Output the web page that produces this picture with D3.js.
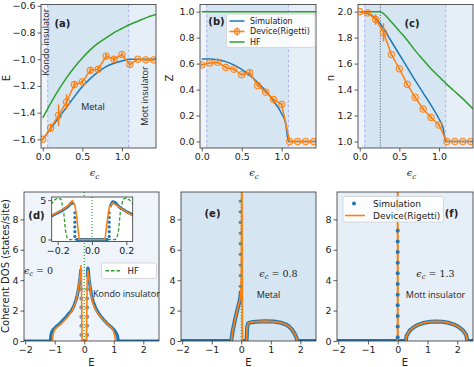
<!DOCTYPE html>
<html>
<head>
<meta charset="utf-8">
<script src="https://cdn.jsdelivr.net/npm/d3@7"></script>
<style>
  body { margin: 0; background: #fff; }
  svg text { fill: #222; }
</style>
</head>
<body>
<svg id="chart" width="474" height="367"></svg>
<script>
// ---- top row: energy, Z and n against eps_c ----
const epsDevice = [0, 0.1, 0.2, 0.3, 0.4, 0.5, 0.6, 0.7, 0.8, 0.9, 1.0, 1.1, 1.2, 1.3, 1.4]
const epsSim = [0, 0.1, 0.2, 0.3, 0.4, 0.5, 0.6, 0.7, 0.8, 0.9, 1.0, 1.05, 1.085, 1.43]
const epsHF = [0, 0.1, 0.2, 0.3, 0.4, 0.5, 0.6, 0.7, 0.8, 0.9, 1.0, 1.1, 1.2, 1.3, 1.43]
const epsHFn = [0, 0.26, 0.3, 0.4, 0.5, 0.6, 0.7, 0.8, 0.9, 1.0, 1.1, 1.2, 1.3, 1.43]

const energyDevice = [-1.6, -1.514, -1.42, -1.32, -1.19, -1.17, -1.083, -1.075, -0.977, -1.0, -0.965, -1.04, -1.0, -1.005, -1.005]
const energyErr = [0.01, 0.03, 0.08, 0.055, 0.025, 0.015, 0.025, 0.025, 0.02, 0.02, 0.015, 0.015, 0.01, 0.01, 0.01]
const energySim = [-1.6, -1.52, -1.44, -1.36, -1.28, -1.205, -1.145, -1.095, -1.055, -1.03, -1.013, -1.005, -1.0, -1.0]
const energyHF = [-1.44, -1.33, -1.23, -1.14, -1.06, -0.99, -0.93, -0.88, -0.84, -0.8, -0.77, -0.74, -0.715, -0.69, -0.665]

const zDevice = [0.59, 0.605, 0.61, 0.57, 0.557, 0.514, 0.53, 0.43, 0.38, 0.324, 0.286, 0, 0, 0, 0]
const zErr = [0.01, 0.01, 0.01, 0.01, 0.01, 0.01, 0.02, 0.01, 0.01, 0.01, 0.015, 0.005, 0.005, 0.005, 0.005]
const zSim = [0.635, 0.635, 0.63, 0.615, 0.59, 0.555, 0.51, 0.455, 0.39, 0.31, 0.215, 0.14, 0, 0]
const zHF = [1, 1, 1, 1, 1, 1, 1, 1, 1, 1, 1, 1, 1, 1, 1]

const nDevice = [2.0, 1.99, 1.94, 1.84, 1.67, 1.56, 1.44, 1.34, 1.25, 1.185, 1.127, 1.0, 1.0, 1.0, 1.0]
const nErr = [0.005, 0.01, 0.04, 0.07, 0.01, 0.01, 0.01, 0.01, 0.01, 0.01, 0.01, 0.005, 0.005, 0.005, 0.005]
const nSim = [2.0, 1.985, 1.95, 1.87, 1.77, 1.67, 1.57, 1.47, 1.375, 1.28, 1.175, 1.11, 1.0, 1.0]
const nHF = [2.0, 2.0, 1.985, 1.92, 1.85, 1.78, 1.7, 1.63, 1.56, 1.5, 1.44, 1.385, 1.33, 1.25]

// phase boundaries (Kondo | Metal | Mott) and the HF kink in (c)
const phaseEdges = [0.063, 1.085]
const hfKink = [0.26]

const epsTicks = [0, 0.5, 1.0]
const energyTicks = [-1.6, -1.4, -1.2, -1.0, -0.8, -0.6]
const zTicks = [0, 0.2, 0.4, 0.6, 0.8, 1.0]
const nTicks = [1.0, 1.2, 1.4, 1.6, 1.8, 2.0]

// ---- bottom row: coherent DOS against E ----
const simE_d = [-2.04, -1.15, -1.13, -1.1, -1.05, -0.95, -0.85, -0.75, -0.65, -0.55, -0.45, -0.35, -0.28, -0.23, -0.18, -0.14, -0.12, -0.105, -0.1, -0.095, 0.095, 0.1, 0.105, 0.12, 0.135, 0.16, 0.2, 0.25, 0.3, 0.4, 0.5, 0.6, 0.7, 0.8, 0.9, 1.0, 1.06, 1.1, 1.13, 1.15, 2.53]
const simDos_d = [0, 0, 0.35, 0.6, 0.75, 0.95, 1.1, 1.3, 1.5, 1.75, 1.95, 2.3, 2.7, 3.05, 3.6, 4.2, 4.65, 4.6, null, 0, 0, null, 4.2, 4.8, 4.7, 4.1, 3.55, 3.0, 2.6, 2.1, 1.78, 1.52, 1.3, 1.1, 0.94, 0.75, 0.6, 0.45, 0.3, 0, 0]
const devE_d = [-1.08, -1.06, -1.03, -1.0, -0.9, -0.8, -0.7, -0.6, -0.5, -0.4, -0.3, -0.25, -0.2, -0.16, -0.13, -0.115, -0.1, -0.09, -0.08, -0.075, 0.075, 0.08, 0.09, 0.1, 0.12, 0.14, 0.17, 0.2, 0.25, 0.3, 0.4, 0.5, 0.6, 0.7, 0.8, 0.9, 0.97, 1.0, 1.03, 1.06]
const devDos_d = [0, 0.35, 0.6, 0.75, 0.95, 1.1, 1.3, 1.5, 1.75, 2.05, 2.5, 2.9, 3.45, 3.95, 4.5, 4.95, 4.4, 3.0, 1.0, 0, 0, 0.8, 2.6, 4.0, 4.65, 4.4, 3.95, 3.5, 2.9, 2.45, 2.0, 1.72, 1.48, 1.28, 1.08, 0.92, 0.72, 0.58, 0.33, 0]
const gapDotE_d = [-0.1, -0.1, -0.1, -0.1, -0.1, -0.1, 0.1, 0.1, 0.1, 0.1, 0.1, 0.1]
const gapDotDos_d = [0.4, 1.0, 1.6, 2.2, 2.8, 3.4, 0.4, 1.0, 1.6, 2.2, 2.8, 3.4]
const hfE_d = [-0.26, -0.235, -0.22, -0.2, -0.18, -0.165, -0.155, -0.145, -0.135, 0.135, 0.145, 0.155, 0.165, 0.18, 0.2, 0.22, 0.235, 0.26]
const hfDos_d = [3.9, 4.6, 5.0, 5.3, 5.1, 3.5, 1.2, 0.2, 0, 0, 0.2, 1.2, 3.5, 5.1, 5.3, 5.0, 4.6, 3.9]

const simE_e = [-2.04, -0.34, -0.3, -0.26, -0.2, -0.15, -0.1, -0.06, -0.03, -0.01, 0, 0.04, 0.18, 0.2, 0.23, 0.3, 0.5, 0.8, 1.1, 1.35, 1.5, 1.62, 1.72, 1.8, 1.86, 1.9, 2.53]
const simDos_e = [0, 0, 0.55, 0.95, 1.5, 1.9, 2.3, 2.6, 2.9, 3.3, null, 0, 0, 0.9, 1.15, 1.22, 1.27, 1.3, 1.28, 1.2, 1.1, 0.95, 0.75, 0.5, 0.25, 0, 0]
const devE_e = [-0.34, -0.3, -0.26, -0.2, -0.15, -0.1, -0.06, -0.03, -0.01, 0.005, 0.015, 0.02, 0.025, 0.035, 0.1, 0.18, 0.2, 0.23, 0.3, 0.5, 0.8, 1.1, 1.35, 1.5, 1.62, 1.72, 1.8, 1.86, 1.9]
const devDos_e = [0, 0.55, 0.95, 1.5, 1.9, 2.3, 2.6, 2.9, 3.3, 4.5, 9, 30, 9, 0, null, 0, 0.9, 1.15, 1.22, 1.27, 1.3, 1.28, 1.2, 1.1, 0.95, 0.75, 0.5, 0.25, 0]
const peakDotE_e = [-0.035, -0.035, -0.035, -0.035, -0.035, -0.035, -0.035, -0.035, -0.035]
const peakDotDos_e = [3.6, 4.3, 5.0, 5.7, 6.4, 7.1, 7.8, 8.5, 9.2]

const simE_f = [-2.04, 0.27, 0.3, 0.4, 0.55, 0.7, 0.9, 1.1, 1.3, 1.5, 1.7, 1.9, 2.05, 2.2, 2.3, 2.34, 2.53]
const simDos_f = [0, 0, 0.35, 0.68, 0.92, 1.08, 1.2, 1.27, 1.29, 1.27, 1.2, 1.08, 0.92, 0.68, 0.4, 0, 0]
const devE_f = [-0.005, 0, 0.005, 0.1, 0.27, 0.3, 0.4, 0.55, 0.7, 0.9, 1.1, 1.3, 1.5, 1.7, 1.9, 2.05, 2.2, 2.3, 2.34]
const devDos_f = [0, 30, 0, null, 0, 0.35, 0.68, 0.92, 1.08, 1.2, 1.27, 1.29, 1.27, 1.2, 1.08, 0.92, 0.68, 0.4, 0]
const peakDotE_f = [0, 0, 0, 0, 0, 0, 0, 0, 0, 0, 0, 0, 0, 0]
const peakDotDos_f = [0.25, 0.95, 1.65, 2.35, 3.05, 3.75, 4.45, 5.15, 5.85, 6.55, 7.25, 7.95, 8.65, 9.35]

const energyAxisTicks = [-2, -1, 0, 1, 2]
const dosTicks = [0, 2, 4, 6, 8]
const insetETicks = [-0.2, 0, 0.2]
const insetDosTicks = [0, 5]
const epsValues = ['0', '0.8', '1.3']

// ---- styles ----
const BLUE = '#1f77b4'
const ORANGE = '#ff7f0e'
const GREEN = '#2ca02c'
const KONDO_BG = '#eef4fa'
const METAL_BG = '#d5e5f2'
const MOTT_BG = '#e6eff8'
const EDGE = '#a3a9ef'
const TICK_FONT = '"DejaVu Sans", sans-serif'
const NOTE_FONT = '"Open Sans", "DejaVu Sans", sans-serif'
const MATH_FONT = '"DejaVu Serif", serif'

const svg = d3.select('#chart')
let clipCount = 0

const makePanel = (box, xDom, yDom) => {
  const x = d3.scaleLinear().domain(xDom).range([box.l, box.r])
  const y = d3.scaleLinear().domain(yDom).range([box.b, box.t])
  const id = `clip${clipCount++}`
  svg.append('clipPath').attr('id', id)
    .append('rect')
    .attr('x', box.l).attr('y', box.t)
    .attr('width', box.r - box.l).attr('height', box.b - box.t)
  const g = svg.append('g')
  const plot = g.append('g').attr('clip-path', `url(#${id})`)
  return { x, y, g, plot, box }
}

const drawAxes = (p, xTicks, yTicks, xFmt, yFmt) => {
  const { g, x, y, box } = p
  const xa = g.append('g')
    .attr('transform', `translate(0,${box.b})`)
    .call(d3.axisBottom(x).tickValues(xTicks).tickFormat(xFmt).tickSize(3.5).tickPadding(2))
  const ya = g.append('g')
    .attr('transform', `translate(${box.l},0)`)
    .call(d3.axisLeft(y).tickValues(yTicks).tickFormat(yFmt).tickSize(3.5).tickPadding(2))
  for (const a of [xa, ya]) {
    a.select('.domain').remove()
    a.attr('font-family', TICK_FONT).attr('font-size', 9.5)
    a.selectAll('text').attr('fill', '#222')
    a.selectAll('line').attr('stroke', '#333').attr('stroke-width', 0.8)
  }
  g.append('rect')
    .attr('x', box.l).attr('y', box.t)
    .attr('width', box.r - box.l).attr('height', box.b - box.t)
    .attr('fill', 'none').attr('stroke', '#333').attr('stroke-width', 0.8)
}

const curve = (p, xs, ys, color, width, opts = {}) => {
  const line = d3.line()
    .defined((d) => d != null)
    .x((d, i) => p.x(xs[i]))
    .y((d) => p.y(d))
    .curve(opts.smooth ? d3.curveMonotoneX : d3.curveLinear)
  return (opts.layer || p.plot).append('path')
    .datum(ys)
    .attr('d', line)
    .attr('fill', 'none')
    .attr('stroke', color)
    .attr('stroke-width', width)
    .attr('stroke-dasharray', opts.dash || null)
    .attr('stroke-linejoin', 'round')
}

const dots = (p, xs, ys, color, r) => {
  p.plot.selectAll(null).data(ys).join('circle')
    .attr('cx', (d, i) => p.x(xs[i]))
    .attr('cy', (d) => p.y(d))
    .attr('r', r)
    .attr('fill', color)
}

const vline = (p, value, color, width, dash) => {
  p.plot.append('line')
    .attr('x1', p.x(value)).attr('x2', p.x(value))
    .attr('y1', p.box.t).attr('y2', p.box.b)
    .attr('stroke', color).attr('stroke-width', width)
    .attr('stroke-dasharray', dash)
}

const device = (p, xs, ys, errs) => {
  curve(p, xs, ys, ORANGE, 1.5)
  p.plot.selectAll(null).data(ys).join('line')
    .attr('x1', (d, i) => p.x(xs[i])).attr('x2', (d, i) => p.x(xs[i]))
    .attr('y1', (d, i) => p.y(d - errs[i])).attr('y2', (d, i) => p.y(d + errs[i]))
    .attr('stroke', ORANGE).attr('stroke-width', 1.5)
  p.plot.selectAll(null).data(ys).join('circle')
    .attr('cx', (d, i) => p.x(xs[i]))
    .attr('cy', (d) => p.y(d))
    .attr('r', 3.3)
    .attr('fill', ORANGE).attr('fill-opacity', 0.15)
    .attr('stroke', ORANGE).attr('stroke-width', 1)
}

const note = (g, x, y, str, opts = {}) => {
  const t = g.append('text')
    .attr('x', x).attr('y', y)
    .attr('text-anchor', opts.anchor || 'middle')
    .attr('dominant-baseline', 'central')
    .style('font-family', opts.bold ? TICK_FONT : NOTE_FONT)
    .style('font-size', `${opts.size || 9}px`)
    .style('font-weight', opts.bold ? 'bold' : null)
    .text(str)
  if (opts.rotate) t.attr('transform', `rotate(-90,${x},${y})`)
  return t
}

const epsText = (x, y, value, size, anchor) => {
  const t = svg.append('text')
    .attr('x', x).attr('y', y)
    .attr('text-anchor', anchor || 'middle')
    .style('font-family', MATH_FONT)
    .style('font-size', `${size}px`)
  t.append('tspan').style('font-style', 'italic').text('ϵ')
  t.append('tspan').attr('dy', 2.5).style('font-size', `${size * 0.72}px`).style('font-style', 'italic').text('c')
  if (value != null) t.append('tspan').attr('dy', -2.5).text(` = ${value}`)
}

// ---- top row ----
const fmt1 = d3.format('.1f')
const topPanel = (box, yDom, yTicks) => {
  const p = makePanel(box, [-0.022, 1.43], yDom)
  const bands = [
    [-0.022, phaseEdges[0], KONDO_BG],
    [phaseEdges[0], phaseEdges[1], METAL_BG],
    [phaseEdges[1], 1.43, MOTT_BG],
  ]
  p.plot.selectAll(null).data(bands).join('rect')
    .attr('x', (d) => p.x(d[0]))
    .attr('width', (d) => p.x(d[1]) - p.x(d[0]))
    .attr('y', box.t).attr('height', box.b - box.t)
    .attr('fill', (d) => d[2])
  for (const v of phaseEdges) vline(p, v, EDGE, 0.9, '3,2')
  return p
}

const TOP = { t: 4.5, b: 148 }

const pa = topPanel({ l: 41, r: 156, ...TOP }, [-1.665, -0.59], energyTicks)
curve(pa, epsHF, energyHF, GREEN, 1.5, { smooth: true })
curve(pa, epsSim, energySim, BLUE, 1.5, { smooth: true })
device(pa, epsDevice, energyDevice, energyErr)
drawAxes(pa, epsTicks, energyTicks, fmt1, fmt1)

const pb = topPanel({ l: 200, r: 316, ...TOP }, [-0.05, 1.055], zTicks)
curve(pb, epsHF, zHF, GREEN, 1.5)
curve(pb, epsSim, zSim, BLUE, 1.5, { smooth: true })
device(pb, epsDevice, zDevice, zErr)
drawAxes(pb, epsTicks, zTicks, fmt1, fmt1)

const pc = topPanel({ l: 358, r: 473, ...TOP }, [0.95, 2.055], nTicks)
for (const v of hfKink) vline(pc, v, '#4a5568', 1, '1,1.6')
curve(pc, epsHFn, nHF, GREEN, 1.5, { smooth: true })
curve(pc, epsSim, nSim, BLUE, 1.5, { smooth: true })
device(pc, epsDevice, nDevice, nErr)
drawAxes(pc, epsTicks, nTicks, fmt1, fmt1)

note(svg, 62.5, 23, '(a)', { bold: true, size: 10 })
note(svg, 45.5, 42, 'Kondo insulator', { rotate: true, size: 9 })
note(svg, 93, 106, 'Metal', { size: 9 })
note(svg, 144, 96, 'Mott insulator', { rotate: true, size: 9 })
note(svg, 216.5, 21, '(b)', { bold: true, size: 10 })
note(svg, 412, 23, '(c)', { bold: true, size: 10 })

note(svg, 6, 78, 'E', { rotate: true, size: 10 }).style('font-family', TICK_FONT)
note(svg, 169, 78, 'Z', { rotate: true, size: 10 }).style('font-family', TICK_FONT)
note(svg, 330, 78, 'n', { rotate: true, size: 10 }).style('font-family', TICK_FONT)
for (const cx of [98.5, 258, 415.5]) epsText(cx - 4, 176, null, 10)

// legend (b)
const lgB = svg.append('g').attr('transform', 'translate(226.5,14)')
lgB.append('rect').attr('width', 88.5).attr('height', 33.5).attr('rx', 2)
  .attr('fill', '#fff').attr('fill-opacity', 0.85).attr('stroke', '#d0d0d0').attr('stroke-width', 0.8)
const legendB = [
  { label: 'Simulation', color: BLUE, marker: false },
  { label: 'Device(Rigetti)', color: ORANGE, marker: true },
  { label: 'HF', color: GREEN, marker: false },
]
legendB.forEach((d, i) => {
  const yy = 7 + i * 10.5
  lgB.append('line').attr('x1', 3).attr('x2', 18).attr('y1', yy).attr('y2', yy)
    .attr('stroke', d.color).attr('stroke-width', 1.5)
  if (d.marker) {
    lgB.append('line').attr('x1', 10.5).attr('x2', 10.5).attr('y1', yy - 4).attr('y2', yy + 4)
      .attr('stroke', ORANGE).attr('stroke-width', 1.2)
    lgB.append('circle').attr('cx', 10.5).attr('cy', yy).attr('r', 3)
      .attr('fill', ORANGE).attr('fill-opacity', 0.15).attr('stroke', ORANGE)
  }
  lgB.append('text').attr('x', 23.5).attr('y', yy).attr('dominant-baseline', 'central')
    .style('font-family', TICK_FONT).style('font-size', '8px').text(d.label)
})

// ---- bottom row ----
const fmtInt = d3.format('d')
const eDom = [-2.04, 2.53]
const dosDom = [0, 9.8]

const pd = makePanel({ l: 24, r: 159, t: 192, b: 341 }, eDom, dosDom)
pd.plot.append('rect').attr('x', 24).attr('y', 192).attr('width', 135).attr('height', 149).attr('fill', KONDO_BG)
vline(pd, 0, GREEN, 1.2, '1,2')
curve(pd, simE_d, simDos_d, BLUE, 3.2)
dots(pd, gapDotE_d, gapDotDos_d, '#8492a0', 2)
curve(pd, devE_d, devDos_d, ORANGE, 1.6)
drawAxes(pd, energyAxisTicks, dosTicks, fmtInt, fmtInt)

const pe = makePanel({ l: 181, r: 316, t: 192, b: 341 }, eDom, dosDom)
pe.plot.append('rect').attr('x', 181).attr('y', 192).attr('width', 135).attr('height', 149).attr('fill', METAL_BG)
vline(pe, 0, GREEN, 1.2, '1,2')
curve(pe, simE_e, simDos_e, BLUE, 4)
curve(pe, devE_e, devDos_e, ORANGE, 1.8)
dots(pe, peakDotE_e, peakDotDos_e, '#5f8a83', 1.6)
drawAxes(pe, energyAxisTicks, dosTicks, fmtInt, fmtInt)

const pf = makePanel({ l: 337, r: 473, t: 192, b: 341 }, eDom, dosDom)
pf.plot.append('rect').attr('x', 337).attr('y', 192).attr('width', 136).attr('height', 149).attr('fill', MOTT_BG)
vline(pf, 0, GREEN, 1.2, '1,2')
curve(pf, simE_f, simDos_f, BLUE, 4)
curve(pf, devE_f, devDos_f, ORANGE, 1.8)
dots(pf, peakDotE_f, peakDotDos_f, BLUE, 2)
drawAxes(pf, energyAxisTicks, dosTicks, fmtInt, fmtInt)

// inset of (d)
const pi = makePanel({ l: 51.7, r: 132.7, t: 197, b: 241.5 }, [-0.235, 0.237], [-0.25, 5.4])
pi.plot.append('rect').attr('x', 51.7).attr('y', 197).attr('width', 81).attr('height', 44.5).attr('fill', '#fff')
vline(pi, 0, GREEN, 1.2, '1,2')
curve(pi, hfE_d, hfDos_d, GREEN, 1.3, { dash: '3.5,2' })
curve(pi, simE_d, simDos_d, BLUE, 3)
dots(pi, gapDotE_d, gapDotDos_d, BLUE, 1.6)
curve(pi, devE_d, devDos_d, ORANGE, 1.6)
drawAxes(pi, insetETicks, insetDosTicks, fmt1, fmtInt)

note(svg, 36.5, 215, '(d)', { bold: true, size: 10 })
note(svg, 212.5, 213.5, '(e)', { bold: true, size: 10 })
note(svg, 451.5, 213.5, '(f)', { bold: true, size: 10 })
epsText(38.5, 273.5, epsValues[0], 9.5)
epsText(278.5, 276.5, epsValues[1], 9.5)
epsText(435.5, 276.5, epsValues[2], 9.5)
note(svg, 93, 293.5, 'Kondo insulator', { anchor: 'start', size: 9 })
note(svg, 268.5, 294, 'Metal', { size: 9 })
note(svg, 435.5, 294, 'Mott insulator', { size: 9 })

note(svg, 5, 266, 'Coherent DOS (states/site)', { rotate: true, size: 10 }).style('font-family', TICK_FONT)
for (const cx of [91.5, 248.5, 405]) note(svg, cx, 362, 'E', { size: 10 }).style('font-family', TICK_FONT)

// legend (d): HF
const lgD = svg.append('g').attr('transform', 'translate(101.5,263)')
lgD.append('rect').attr('width', 55).attr('height', 15.5).attr('rx', 2)
  .attr('fill', '#fff').attr('fill-opacity', 0.9).attr('stroke', '#d0d0d0').attr('stroke-width', 0.8)
lgD.append('line').attr('x1', 4).attr('x2', 20).attr('y1', 7.75).attr('y2', 7.75)
  .attr('stroke', GREEN).attr('stroke-width', 1.3).attr('stroke-dasharray', '3.5,2')
lgD.append('text').attr('x', 26).attr('y', 7.75).attr('dominant-baseline', 'central')
  .style('font-family', TICK_FONT).style('font-size', '8.5px').text('HF')

// legend (f)
const lgF = svg.append('g').attr('transform', 'translate(343,196.5)')
lgF.append('rect').attr('width', 100.5).attr('height', 25.5).attr('rx', 2)
  .attr('fill', '#fff').attr('fill-opacity', 0.85).attr('stroke', '#d0d0d0').attr('stroke-width', 0.8)
lgF.append('circle').attr('cx', 11).attr('cy', 7).attr('r', 2).attr('fill', BLUE)
lgF.append('text').attr('x', 30).attr('y', 7).attr('dominant-baseline', 'central')
  .style('font-family', TICK_FONT).style('font-size', '9px').text('Simulation')
lgF.append('line').attr('x1', 2).attr('x2', 22).attr('y1', 19).attr('y2', 19)
  .attr('stroke', ORANGE).attr('stroke-width', 1.6)
lgF.append('text').attr('x', 30).attr('y', 19).attr('dominant-baseline', 'central')
  .style('font-family', TICK_FONT).style('font-size', '9px').text('Device(Rigetti)')
</script>
</body>
</html>
